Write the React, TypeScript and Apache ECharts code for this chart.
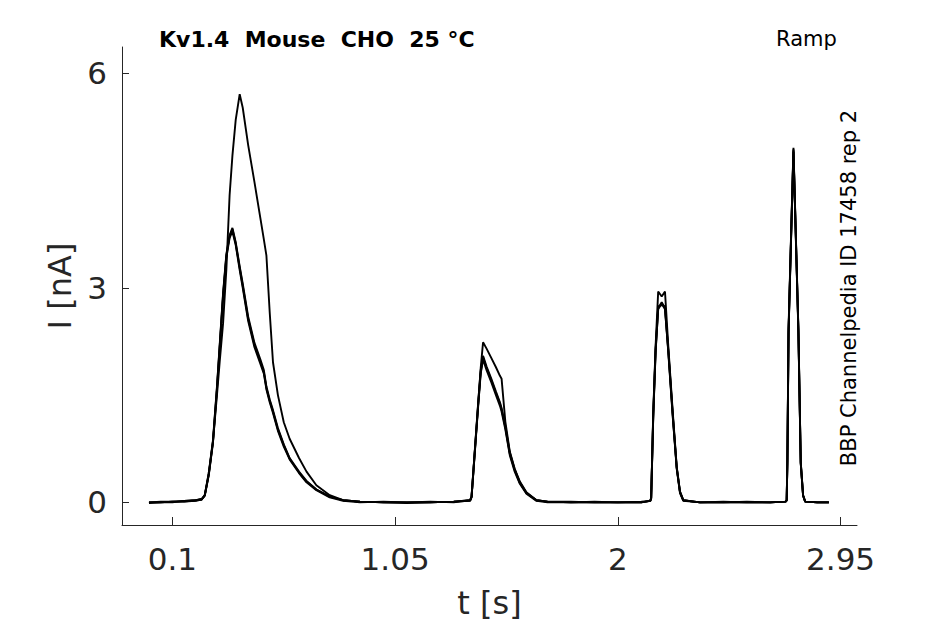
import React, { useEffect, useRef } from "react";
import * as echarts from "echarts";

// time axis (s), grouped: baseline | peak1 | baseline | peak2 | baseline | peak3 | baseline | peak4 | end
const time: number[] = [
  0, 0.05, 0.1, 0.15, 0.2, 0.225, 0.238,
  0.255, 0.273, 0.29, 0.302, 0.316, 0.33, 0.344, 0.356, 0.37, 0.387, 0.4, 0.423, 0.45, 0.475, 0.49, 0.501, 0.515, 0.529, 0.55, 0.575, 0.6, 0.64, 0.672, 0.714, 0.771, 0.828,
  0.9, 1.0, 1.1, 1.2, 1.3, 1.37,
  1.376, 1.39, 1.405, 1.415, 1.425, 1.44, 1.46, 1.48, 1.497, 1.504, 1.52, 1.539, 1.56, 1.582, 1.61, 1.653,
  1.7, 1.8, 1.9, 2.0, 2.1, 2.138,
  2.142, 2.151, 2.161, 2.172, 2.187, 2.201, 2.215, 2.234, 2.251, 2.265, 2.279,
  2.35, 2.45, 2.55, 2.65, 2.715, 2.72,
  2.723, 2.728, 2.738, 2.749, 2.758, 2.77, 2.78, 2.79, 2.799,
  2.85, 2.9,
];

// current (nA) of the sweep with the larger first response
const sweep1: number[] = [
  0, 0, 0.01, 0.01, 0.03, 0.04, 0.1,
  0.38, 0.85, 1.5, 1.98, 2.5, 3.25, 4.3, 4.85, 5.35, 5.71, 5.52, 5.0, 4.48, 3.98, 3.68, 3.45, 2.66, 1.96, 1.5, 1.12, 0.89, 0.62, 0.43, 0.24, 0.1, 0.03,
  0.01, 0, 0, 0, 0.01, 0.03,
  0.08, 0.72, 1.42, 1.88, 2.24, 2.15, 2.02, 1.89, 1.77, 1.73, 1.13, 0.71, 0.47, 0.29, 0.14, 0.03,
  0.01, 0, 0, 0, 0, 0.02,
  0.06, 1.27, 2.19, 2.95, 2.88, 2.95, 2.19, 1.27, 0.5, 0.15, 0.03,
  0, 0, 0, 0, 0.01, 0.03,
  0.57, 2.43, 3.65, 4.96, 3.88, 2.43, 0.57, 0.1, 0.01,
  0, 0,
];

// remaining sweeps (overlapping)
const sweep2: number[] = [
  0, 0.01, 0.01, 0.02, 0.03, 0.04, 0.1,
  0.4, 0.85, 1.6, 2.2, 2.9, 3.45, 3.72, 3.82, 3.62, 3.28, 3.03, 2.57, 2.2, 1.97, 1.82, 1.6, 1.42, 1.27, 1.02, 0.8, 0.61, 0.42, 0.29, 0.18, 0.08, 0.03,
  0.01, 0, -0.01, 0, 0.01, 0.03,
  0.08, 0.72, 1.4, 1.82, 2.03, 1.88, 1.71, 1.53, 1.38, 1.3, 1.05, 0.68, 0.45, 0.27, 0.13, 0.03,
  0.01, 0, 0, 0, 0, 0.02,
  0.05, 1.22, 2.12, 2.7, 2.78, 2.7, 2.12, 1.22, 0.48, 0.14, 0.03,
  0, 0, 0, 0, 0.01, 0.03,
  0.55, 2.38, 3.58, 4.9, 3.82, 2.4, 0.55, 0.1, 0.01,
  0, 0,
];

const sweep3: number[] = [
  -0.01, 0, 0.01, 0.01, 0.02, 0.04, 0.09,
  0.38, 0.83, 1.57, 2.17, 2.86, 3.42, 3.7, 3.79, 3.6, 3.25, 3.0, 2.54, 2.17, 1.94, 1.8, 1.58, 1.4, 1.25, 1.0, 0.78, 0.6, 0.41, 0.28, 0.17, 0.07, 0.02,
  0, 0.01, 0, 0, 0.01, 0.02,
  0.07, 0.7, 1.38, 1.8, 2.0, 1.85, 1.68, 1.5, 1.35, 1.27, 1.02, 0.66, 0.43, 0.26, 0.12, 0.02,
  0, 0, 0.01, 0, 0, 0.02,
  0.05, 1.2, 2.1, 2.72, 2.8, 2.72, 2.1, 1.2, 0.47, 0.13, 0.02,
  0, 0, 0.01, 0, 0.01, 0.02,
  0.54, 2.36, 3.6, 4.92, 3.85, 2.38, 0.54, 0.09, 0.01,
  0, 0,
];

const sweep4: number[] = [
  0, 0, 0, 0.02, 0.03, 0.05, 0.1,
  0.41, 0.87, 1.62, 2.22, 2.92, 3.47, 3.74, 3.84, 3.64, 3.3, 3.06, 2.6, 2.23, 2.0, 1.85, 1.62, 1.44, 1.29, 1.04, 0.81, 0.62, 0.43, 0.3, 0.18, 0.08, 0.03,
  0.01, 0, 0, 0.01, 0, 0.03,
  0.08, 0.74, 1.43, 1.85, 2.05, 1.9, 1.73, 1.55, 1.4, 1.32, 1.07, 0.7, 0.46, 0.28, 0.13, 0.03,
  0.01, 0.01, 0, 0, 0.01, 0.02,
  0.06, 1.24, 2.15, 2.74, 2.76, 2.74, 2.14, 1.24, 0.49, 0.15, 0.03,
  0, 0.01, 0, 0, 0.01, 0.03,
  0.56, 2.4, 3.62, 4.94, 3.86, 2.42, 0.56, 0.1, 0.01,
  0, 0,
];

const xTickValues = [0.1, 1.05, 2, 2.95];
const xTickLabels = ["0.1", "1.05", "2", "2.95"];
const yTickValues = [0, 3, 6];
const yTickLabels = ["0", "3", "6"];

const titleText = "Kv1.4  Mouse  CHO  25 °C";
const protocolText = "Ramp";
const sourceText = "BBP Channelpedia ID 17458 rep 2";
const xName = "t [s]";
const yName = "I [nA]";

const FONT = "DejaVu Sans";
const AXIS_COLOR = "#262626";

export default function App() {
  const ref = useRef<HTMLDivElement | null>(null);

  useEffect(() => {
    if (!ref.current) return;
    const chart = echarts.init(ref.current, undefined, { renderer: "svg" });

    const toPairs = (vals: number[]) => time.map((t, i) => [t, vals[i]]);
    const sweeps = [sweep2, sweep3, sweep4, sweep1];

    chart.setOption({
      animation: false,
      backgroundColor: "#ffffff",
      grid: { left: 122, right: 88, top: 47, bottom: 97, containLabel: false },
      xAxis: {
        type: "value",
        min: -0.115,
        max: 3.02,
        name: xName,
        nameLocation: "middle",
        nameGap: 62,
        nameTextStyle: { fontFamily: FONT, fontSize: 32, color: AXIS_COLOR },
        axisLine: { show: true, onZero: false, lineStyle: { color: AXIS_COLOR, width: 1 } },
        axisTick: {
          show: true,
          inside: true,
          length: 8,
          customValues: xTickValues,
          lineStyle: { color: AXIS_COLOR, width: 1 },
        },
        axisLabel: {
          customValues: xTickValues,
          formatter: (v: number) => {
            const i = xTickValues.findIndex((x) => Math.abs(x - v) < 1e-9);
            return i >= 0 ? xTickLabels[i] : "";
          },
          margin: 18,
          fontFamily: FONT,
          fontSize: 31,
          color: AXIS_COLOR,
        },
        splitLine: { show: false },
      },
      yAxis: {
        type: "value",
        min: -0.317,
        max: 6.37,
        name: yName,
        nameLocation: "middle",
        nameGap: 46,
        nameTextStyle: { fontFamily: FONT, fontSize: 32, color: AXIS_COLOR },
        axisLine: { show: true, onZero: false, lineStyle: { color: AXIS_COLOR, width: 1 } },
        axisTick: {
          show: true,
          inside: true,
          length: 7,
          customValues: yTickValues,
          lineStyle: { color: AXIS_COLOR, width: 1 },
        },
        axisLabel: {
          customValues: yTickValues,
          formatter: (v: number) => {
            const i = yTickValues.findIndex((x) => Math.abs(x - v) < 1e-9);
            return i >= 0 ? yTickLabels[i] : "";
          },
          margin: 15,
          fontFamily: FONT,
          fontSize: 31,
          color: AXIS_COLOR,
        },
        splitLine: { show: false },
      },
      series: sweeps.map((s) => ({
        type: "line",
        data: toPairs(s),
        showSymbol: false,
        symbol: "none",
        smooth: false,
        silent: true,
        lineStyle: { color: "#000000", width: 1.9 },
        z: 2,
      })),
      graphic: [
        {
          type: "text",
          left: 159,
          top: 28,
          style: {
            text: titleText,
            font: `bold 22px "${FONT}"`,
            fill: "#000000",
          },
        },
        {
          type: "text",
          left: 776,
          top: 28,
          style: {
            text: protocolText,
            font: `21px "${FONT}"`,
            fill: "#000000",
          },
        },
        {
          type: "text",
          x: 849,
          y: 288,
          rotation: Math.PI / 2,
          style: {
            text: sourceText,
            font: `21px "${FONT}"`,
            fill: "#000000",
            align: "center",
            verticalAlign: "middle",
          },
        },
      ],
    });

    return () => chart.dispose();
  }, []);

  return (
    <div
      ref={ref}
      style={{ position: "fixed", left: 0, top: 0, width: 945, height: 624 }}
    />
  );
}
